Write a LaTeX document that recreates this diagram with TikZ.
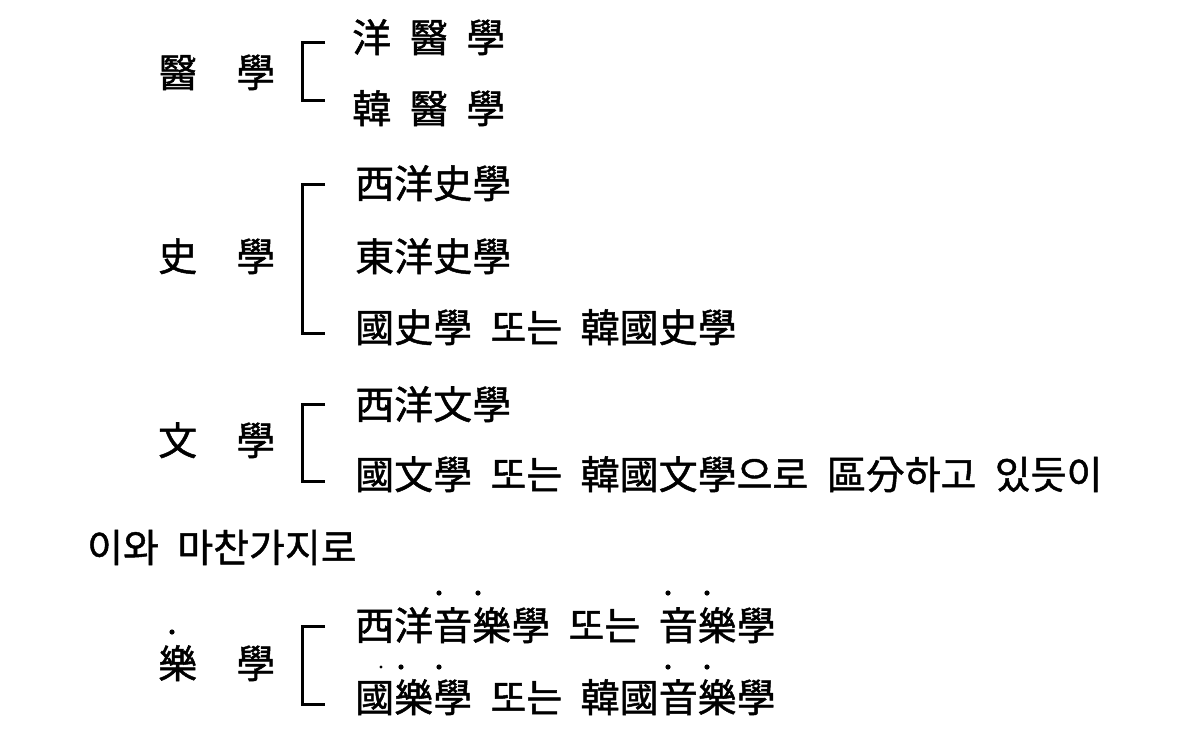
\documentclass[tikz,border=0pt]{standalone}
\usepackage{fontspec}
\newfontfamily\kr[WordSpace=2.1,FakeBold=1.2]{Noto Sans CJK KR}
\begin{document}
\begin{tikzpicture}[x=1pt,y=-1pt,
  txt/.style={anchor=base west,inner sep=0pt,font=\kr\fontsize{39}{39}\selectfont},
  brk/.style={line width=3pt},
  dotmark/.style={fill=black}]
\useasboundingbox (0,0) rectangle (1188,736);
% left headings
\node[txt] (h1) at (158,87) {醫　學};
\node[txt] (h2) at (158,271) {史　學};
\node[txt] (h3) at (158,455) {文　學};
\node[txt] (h4) at (158,678) {樂　學};
% right column
\node[txt] (r1) at (352,52) {洋\hspace{18pt}醫\hspace{18pt}學};
\node[txt] (r2) at (352,123) {韓\hspace{18pt}醫\hspace{18pt}學};
\node[txt] (r3) at (355,198) {西洋史學};
\node[txt] (r4) at (355,271) {東洋史學};
\node[txt] (r5) at (355,342) {國史學 또는 韓國史學};
\node[txt] (r6) at (355,419) {西洋文學};
\node[txt] (r7) at (355,489) {國文學 또는 韓國文學으로 區分하고 있듯이};
\node[txt] (m) at (87,562) {이와 마찬가지로};
\node[txt] (r8) at (355,640) {西洋音樂學 또는 音樂學};
\node[txt] (r9) at (355,712) {國樂學 또는 韓國音樂學};
% brackets
\coordinate (a1) at (325,42); \coordinate (b1) at (325,100);
\coordinate (a2) at (325,184); \coordinate (b2) at (325,333);
\coordinate (a3) at (325,404); \coordinate (b3) at (325,481);
\coordinate (a4) at (325,626); \coordinate (b4) at (325,704);
\draw[brk] (a1) -| (302,100) -- (b1);
\draw[brk] (a2) -| (302,333) -- (b2);
\draw[brk] (a3) -| (302,481) -- (b3);
\draw[brk] (a4) -| (302,704) -- (b4);
% emphasis dots
\foreach \p in {(439,593),(478,593),(668,593),(707,593),(401,667),(439,667),(668,667),(707,667),(172,632)}
  \fill[dotmark] \p circle (2.6);
\fill[dotmark] (381,667) circle (1.6);
\end{tikzpicture}
\end{document}
